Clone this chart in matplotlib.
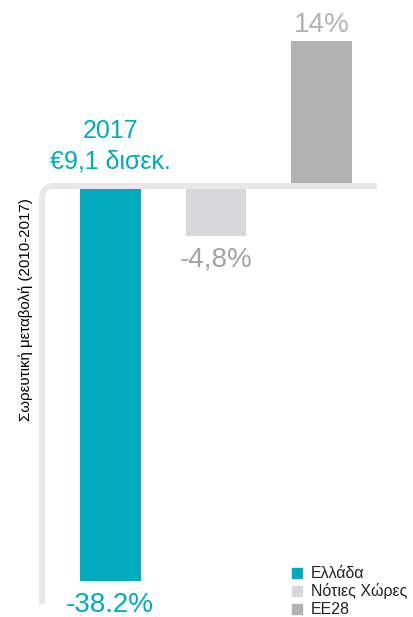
import matplotlib.pyplot as plt
from matplotlib.path import Path
from matplotlib.patches import PathPatch, Rectangle

plt.rcParams['font.family'] = ['Liberation Sans', 'DejaVu Sans']

categories = ['Ελλάδα', 'Νότιες Χώρες', 'ΕΕ28']
values = [-38.2, -4.8, 14.0]
value_labels = ['-38.2%', '-4,8%', '14%']
bar_colors = ['#00abbd', '#d8d8da', '#b2b2b2']
label_colors = ['#00abbd', '#a3a3a3', '#b3b3b3']
ylabel = 'Σωρευτική μεταβολή (2010-2017)'
headline = '2017\n€9,1 δισεκ.'

fig = plt.figure(figsize=(4.14, 6.17), dpi=100)
ax = fig.add_axes([0, 0, 1, 1])
ax.set_xlim(-1.04, 2.87)
ax.set_ylim(-41.64, 17.97)
ax.axis('off')

x = list(range(len(categories)))
ax.bar(x, values, width=0.575, color=bar_colors, zorder=2)

# value labels above / below the bars
for i, v in enumerate(values):
    if v < 0:
        ax.text(i, v - 1.0, value_labels[i], ha='center', va='top',
                fontsize=20, color=label_colors[i])
    else:
        ax.text(i, v + 0.3, value_labels[i], ha='center', va='bottom',
                fontsize=20, color=label_colors[i])

ax.text(0, 1.2, headline, ha='center', va='bottom', fontsize=18,
        color=bar_colors[0], linespacing=1.35)

# zero line with a rounded corner running down the left side
xl, xr, yb = -0.642, 2.52, -40.4
rx, ry = 0.115, 1.2
verts = [(xl, yb), (xl, -ry), (xl, 0), (xl + rx, 0), (xr, 0)]
codes = [Path.MOVETO, Path.LINETO, Path.CURVE3, Path.CURVE3, Path.LINETO]
ax.add_patch(PathPatch(Path(verts, codes), fill=False, edgecolor='#e8e8e8',
                       linewidth=4.3, capstyle='butt', zorder=3))

fig.text(0.062, 1 - 310 / 617, ylabel, rotation=90, ha='center', va='center',
         fontsize=10.8, color='black')

# legend
for i, (name, col) in enumerate(zip(categories, bar_colors)):
    yy = 1 - (573 + 18 * i) / 617
    fig.patches.append(Rectangle((292 / 414, yy - 5 / 617), 10.5 / 414, 10 / 617,
                                 transform=fig.transFigure, color=col))
    fig.text(311 / 414, yy, name, ha='left', va='center', fontsize=11.5,
             color='#222222')

fig.savefig('out.png', dpi=100)
